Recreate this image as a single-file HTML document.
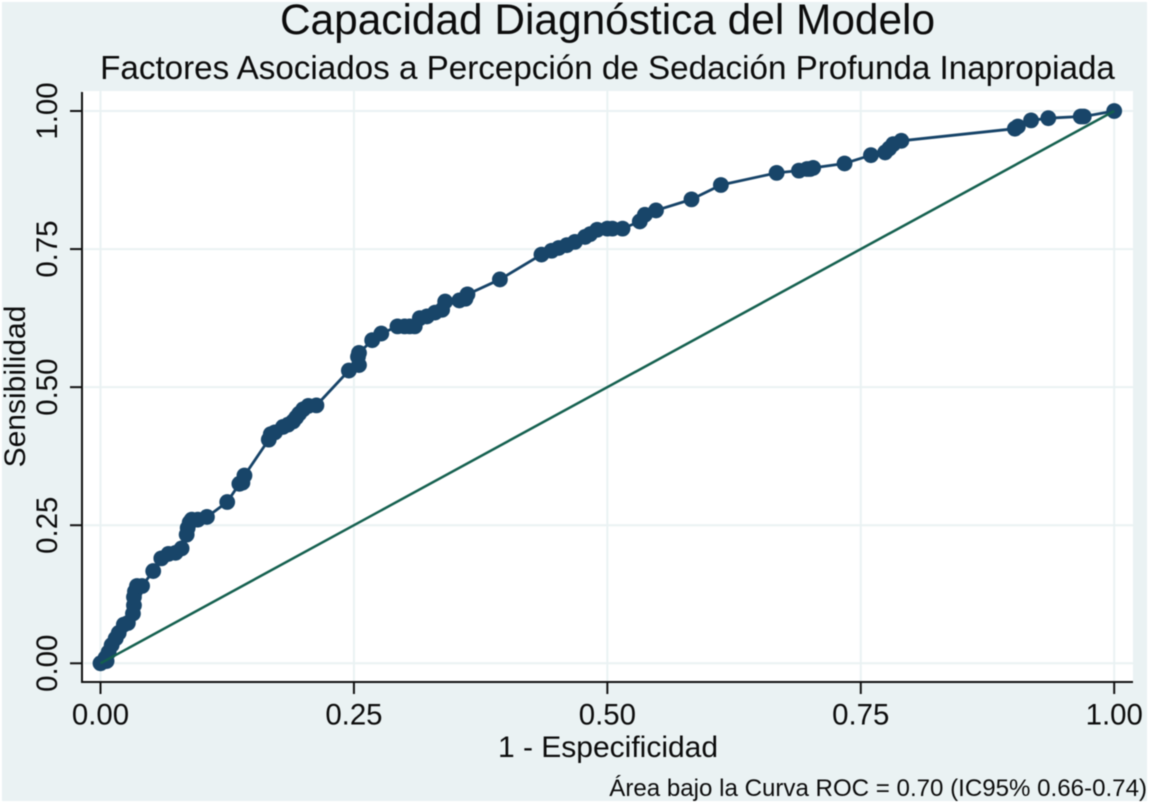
<!DOCTYPE html>
<html lang="es">
<head>
<meta charset="utf-8">
<title>Capacidad Diagnóstica del Modelo</title>
<style>
html,body{margin:0;padding:0;background:#fff;}
svg{display:block;font-family:"Liberation Sans",Arial,sans-serif;filter:blur(0.4px);}
text{fill:#0c0c0c;}
</style>
</head>
<body>
<svg id="chart" xmlns="http://www.w3.org/2000/svg" width="1150" height="805" viewBox="0 0 1150 805">
  <rect x="2" y="2" width="1145" height="799" fill="#eaf2f3"/>
  <rect x="82" y="91" width="1051" height="591" fill="#ffffff"/>
  <g id="grid"></g>
  <g id="refline"></g>
  <g id="series"></g>
  <g id="axes"></g>
  <text x="607.5" y="34" text-anchor="middle" font-size="42.4">Capacidad Diagnóstica del Modelo</text>
  <text x="607.5" y="79" text-anchor="middle" font-size="33.2">Factores Asociados a Percepción de Sedación Profunda Inapropiada</text>
  <text x="608" y="757" text-anchor="middle" font-size="30">1 - Especificidad</text>
  <text transform="translate(25,386.5) rotate(-90)" text-anchor="middle" font-size="30">Sensibilidad</text>
  <text x="1147" y="796" text-anchor="end" font-size="24.1">Área bajo la Curva ROC = 0.70 (IC95% 0.66-0.74)</text>
</svg>
<script>
const tickValues = [0, 0.25, 0.5, 0.75, 1];
const tickLabels = ["0.00", "0.25", "0.50", "0.75", "1.00"];
const falsePositiveRate = [0,.006,.005,.008,.011,.015,.018,.023,.027,.032,.033,.033,.034,.036,.041,.052,.06,.067,.074,.08,.085,.086,.088,.09,.096,.105,.125,.137,.14,.142,.166,.168,.172,.18,.185,.19,.193,.196,.2,.205,.213,.245,.255,.254,.255,.268,.277,.293,.3,.305,.31,.315,.322,.33,.337,.34,.354,.36,.362,.394,.435,.445,.452,.46,.468,.478,.483,.49,.5,.505,.515,.532,.537,.548,.583,.612,.667,.689,.697,.7,.703,.734,.76,.774,.778,.782,.79,.902,.905,.918,.935,.967,.97,1];
const sensitivity = [0,.004,.01,.02,.033,.045,.055,.07,.073,.09,.105,.12,.13,.14,.14,.167,.19,.198,.2,.208,.233,.245,.255,.26,.26,.265,.292,.325,.327,.34,.405,.415,.418,.428,.432,.438,.445,.452,.46,.466,.467,.53,.54,.555,.562,.585,.597,.61,.61,.61,.61,.625,.628,.635,.64,.655,.657,.66,.668,.695,.74,.747,.752,.757,.763,.772,.777,.785,.787,.787,.787,.8,.812,.82,.84,.866,.888,.892,.895,.895,.897,.905,.92,.925,.932,.94,.946,.968,.972,.983,.987,.99,.99,1];
const diagonalValues = [0, 1];

const NS = "http://www.w3.org/2000/svg";
function xScale(v){ return 100.5 + v * 1013.7; }
function yScale(v){ return 663.3 - v * 552.3; }
function make(tag, attrs, parent){
  const el = document.createElementNS(NS, tag);
  for (const k in attrs) el.setAttribute(k, attrs[k]);
  parent.appendChild(el);
  return el;
}
const grid = document.getElementById("grid");
const axes = document.getElementById("axes");
const refline = document.getElementById("refline");
const series = document.getElementById("series");

tickValues.forEach(function(v, i){
  const gx = make("line", {x1:xScale(v), x2:xScale(v), y1:91, y2:682, stroke:"#eaf2f3", "stroke-width":2}, grid);
  
  
  const gy = make("line", {x1:84, x2:1133, y1:yScale(v), y2:yScale(v), stroke:"#eaf2f3", "stroke-width":2}, grid);
  
  

  const tx = make("line", {x1:xScale(v), x2:xScale(v), y1:682, y2:694, stroke:"#111", "stroke-width":2}, axes);
  
  
  const lx = make("text", {x:xScale(v), y:724.5, "text-anchor":"middle", "font-size":29.4}, axes);
  lx.textContent = tickLabels[i];
  
  

  const ty = make("line", {x1:70, x2:82, y1:yScale(v), y2:yScale(v), stroke:"#111", "stroke-width":2}, axes);
  
  
  const ly = make("text", {transform:"translate(57," + yScale(v) + ") rotate(-90)", "text-anchor":"middle", "font-size":29.4}, axes);
  ly.textContent = tickLabels[i];
  
  
});

const xAxisLine = make("line", {x1:81, x2:1133, y1:682, y2:682, stroke:"#111", "stroke-width":2}, axes);


const yAxisLine = make("line", {x1:82, x2:82, y1:92, y2:683, stroke:"#111", "stroke-width":2}, axes);



const rocPoints = falsePositiveRate.map(function(v, i){ return xScale(v) + "," + yScale(sensitivity[i]); }).join(" ");
const rocLine = make("polyline", {points:rocPoints, fill:"none", stroke:"#164368", "stroke-width":2.8, "stroke-linejoin":"round"}, series);


falsePositiveRate.forEach(function(v, i){
  const dot = make("circle", {cx:xScale(v), cy:yScale(sensitivity[i]), r:7.9, fill:"#184569"}, series);
  
  
});

const diag = make("line", {x1:xScale(diagonalValues[0]), y1:yScale(diagonalValues[0]), x2:xScale(diagonalValues[1]), y2:yScale(diagonalValues[1]), stroke:"#14604f", "stroke-width":2.5}, refline);


// the diagonal is drawn over the markers in the reference
document.getElementById("chart").insertBefore(series, refline);
</script>
</body>
</html>
